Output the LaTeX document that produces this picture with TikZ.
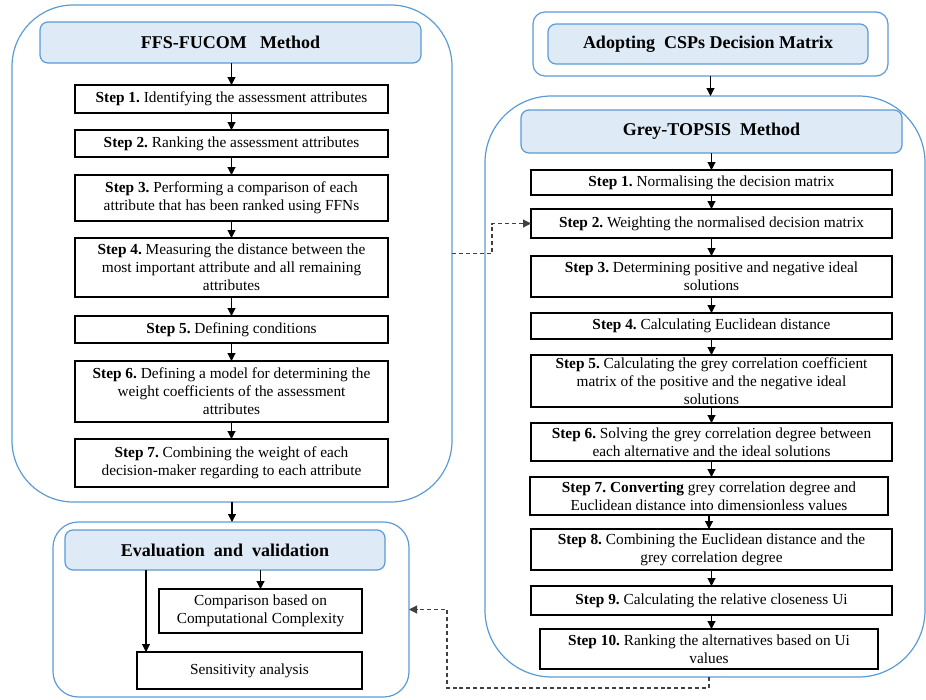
\documentclass[tikz,border=0pt]{standalone}
\usepackage{fontspec}
\setmainfont{Liberation Serif}
\usetikzlibrary{arrows.meta}
\definecolor{bblue}{HTML}{5B9BD5}
\definecolor{hfill}{HTML}{DEEAF6}
\frenchspacing
\tikzset{
  arr/.style={-{Triangle[length=6pt,width=6pt]},line width=0.8pt},
  dasharr/.style={-{Triangle[length=6pt,width=6pt]},line width=0.8pt,black!75,dash pattern=on 3pt off 2.2pt},
  stepbox/.style={draw,line width=0.8pt,inner sep=0pt,outer sep=0pt,align=center,font=\fontsize{11.5}{13.5}\selectfont},
  plainbox/.style={stepbox},
  headbox/.style={draw=bblue,fill=hfill,line width=0.9pt,rounded corners=6pt,inner sep=0pt,outer sep=0pt,font=\bfseries\fontsize{13.5}{16}\selectfont},
  bigcont/.style={draw=bblue,line width=0.9pt,rounded corners=46pt,inner sep=0pt,outer sep=0pt},
  midcont/.style={draw=bblue,line width=0.9pt,rounded corners=19pt,inner sep=0pt,outer sep=0pt},
  smallcont/.style={draw=bblue,line width=0.9pt,rounded corners=9pt,inner sep=0pt,outer sep=0pt}
}
\newcommand\bx[7]{\node[#6,minimum width={(#4-#2)*0.75pt},minimum height={(#5-#3)*0.75pt}] (#1) at ({(#2+#4)/2},{(#3+#5)/2}) {#7};}
\begin{document}
\begin{tikzpicture}[x=0.75pt,y=-0.75pt]
\useasboundingbox (0,0) rectangle (926,700);
% containers
\bx{leftC}{12}{5}{452}{502}{bigcont}{}
\bx{evalC}{53}{522}{409}{697}{midcont}{}
\bx{adoptC}{533}{12}{888}{76}{smallcont}{}
\bx{greyC}{485}{96}{925}{677}{bigcont,rounded corners=50pt}{}
% headers
\bx{fh}{40}{22}{421}{63}{headbox}{FFS-FUCOM~~~Method}
\bx{eh}{65}{530}{385}{570}{headbox}{Evaluation~~and~~validation}
\bx{ah}{548}{24}{868}{64}{headbox}{Adopting~~CSPs Decision Matrix}
\bx{gh}{521}{110}{902}{153}{headbox}{Grey-TOPSIS~~Method}
% left steps
\bx{l1}{75}{85}{388}{113}{stepbox}{\textbf{Step 1.} Identifying the assessment attributes}
\bx{l2}{75}{130}{388}{157}{stepbox}{\textbf{Step 2.} Ranking the assessment attributes}
\bx{l3}{75}{175}{388}{221}{stepbox}{\textbf{Step 3.} Performing a comparison of each\\attribute that has been ranked using FFNs}
\bx{l4}{75}{238}{388}{297}{stepbox}{\textbf{Step 4.} Measuring the distance between the\\most important attribute and all remaining\\attributes}
\bx{l5}{75}{316}{388}{343}{stepbox}{\textbf{Step 5.} Defining conditions}
\bx{l6}{75}{361}{388}{422}{stepbox}{\textbf{Step 6.} Defining a model for determining the\\weight coefficients of the assessment\\attributes}
\bx{l7}{75}{439}{388}{487}{stepbox}{\textbf{Step 7.} Combining the weight of each\\decision-maker regarding to each attribute}
% evaluation boxes
\bx{comp}{159}{589}{362}{633}{plainbox}{Comparison based on\\Computational Complexity}
\bx{sens}{137}{652}{362}{689}{plainbox}{Sensitivity analysis}
% right steps
\bx{r1}{531}{170}{892}{195}{stepbox}{\textbf{Step 1.} Normalising the decision matrix}
\bx{r2}{531}{209}{892}{238}{stepbox}{\textbf{Step 2.} Weighting the normalised decision matrix}
\bx{r3}{531}{256}{892}{297}{stepbox}{\textbf{Step 3.} Determining positive and negative ideal\\solutions}
\bx{r4}{531}{313}{892}{339}{stepbox}{\textbf{Step 4.} Calculating Euclidean distance}
\bx{r5}{531}{355}{892}{407}{stepbox}{\textbf{Step 5.} Calculating the grey correlation coefficient\\matrix of the positive and the negative ideal\\solutions}
\bx{r6}{531}{423}{892}{461}{stepbox}{\textbf{Step 6.} Solving the grey correlation degree between\\each alternative and the ideal solutions}
\bx{r7}{530}{477}{888}{515}{stepbox}{\textbf{Step 7. Converting} grey correlation degree and\\Euclidean distance into dimensionless values}
\bx{r8}{531}{529}{892}{570}{stepbox}{\textbf{Step 8.} Combining the Euclidean distance and the\\grey correlation degree}
\bx{r9}{531}{586}{892}{615}{stepbox}{\textbf{Step 9.} Calculating the relative closeness Ui}
\bx{r10}{540}{629}{878}{669}{stepbox}{\textbf{Step 10.} Ranking the alternatives based on Ui\\values}
% left arrows
\draw[arr] (l1.north |- fh.south) -- (l1.north);
\foreach \a/\b in {l1/l2,l2/l3,l3/l4,l4/l5,l5/l6,l6/l7}{\draw[arr] (\a.south) -- (\b.north);}
\draw[arr] (leftC.south) -- (leftC.south |- evalC.north);
\draw[arr] (comp.north |- eh.south) -- (comp.north);
\draw[arr] ([xshift=6.75pt]sens.north west |- eh.south) -- ([xshift=6.75pt]sens.north west);
% right arrows
\draw[arr] (adoptC.south) -- (adoptC.south |- greyC.north);
\draw[arr] (r1.north |- gh.south) -- (r1.north);
\foreach \a/\b in {r1/r2,r2/r3,r3/r4,r4/r5,r5/r6,r6/r7,r7/r8,r8/r9,r9/r10}{\draw[arr] (\a.south) -- (\a.south |- \b.north);}
% dashed connectors
\draw[dasharr] (leftC.east) -- ++(40,0) |- (r2.west);
\draw[dasharr] (r10.south |- greyC.south) -- ++(0,11) -| ([xshift=28.5pt]evalC.east) -- (evalC.east);
\end{tikzpicture}
\end{document}
